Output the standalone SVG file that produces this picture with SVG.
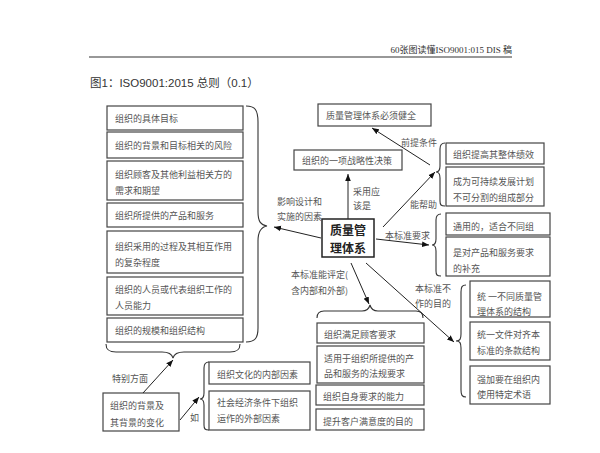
<svg xmlns="http://www.w3.org/2000/svg" width="600" height="453" viewBox="0 0 600 453">
<defs>
<style>
.bx{fill:#fff;stroke:#444;stroke-width:1.2}
.t{font-family:"Noto Sans CJK SC","Noto Sans",sans-serif;font-size:9px;fill:#555}
.c{fill:none;stroke:#222;stroke-width:1}
.br{fill:none;stroke:#333;stroke-width:1.1}
.hd{font-family:"Liberation Serif","Noto Sans CJK SC",serif;font-size:9px;fill:#333}
.ti{font-family:"Liberation Sans","Noto Sans CJK SC",sans-serif;font-size:11.5px;fill:#333}
.big{font-family:"Noto Sans CJK SC",sans-serif;font-size:12px;font-weight:bold;fill:#222}
</style>
<marker id="ah" viewBox="0 0 10 10" refX="10" refY="5" markerWidth="7" markerHeight="7" orient="auto" markerUnits="userSpaceOnUse">
<path d="M0,1 L10,5 L0,9 Z" fill="#111"/>
</marker>
</defs>
<rect width="600" height="453" fill="#fff"/>
<g id="header">
<text class="hd" x="512" y="53" text-anchor="end">60张图读懂ISO9001:015 DIS 稿</text>
<line x1="89" y1="57" x2="512" y2="57" stroke="#333" stroke-width="1.2"/>
<text class="ti" x="90" y="87">图1：ISO9001:2015 总则（0.1）</text>
</g>
<g id="left-column">
<rect class="bx" x="107" y="106" width="136" height="24"/>
<text class="t" x="115" y="122">组织的具体目标</text>
<rect class="bx" x="107" y="132" width="136" height="26"/>
<text class="t" x="115" y="149">组织的背景和目标相关的风险</text>
<rect class="bx" x="107" y="161" width="136" height="39"/>
<text class="t" x="115" y="178">组织顾客及其他利益相关方的</text>
<text class="t" x="115" y="194">需求和期望</text>
<rect class="bx" x="107" y="203" width="136" height="24"/>
<text class="t" x="115" y="219">组织所提供的产品和服务</text>
<rect class="bx" x="107" y="231" width="136" height="42"/>
<text class="t" x="115" y="250">组织采用的过程及其相互作用</text>
<text class="t" x="115" y="266">的复杂程度</text>
<rect class="bx" x="107" y="277" width="136" height="38"/>
<text class="t" x="115" y="293">组织的人员或代表组织工作的</text>
<text class="t" x="115" y="309">人员能力</text>
<rect class="bx" x="107" y="318" width="136" height="24"/>
<text class="t" x="115" y="334">组织的规模和组织结构</text>
</g>
<g id="qms">
<rect x="322" y="219" width="52" height="38" fill="#fff" stroke="#222" stroke-width="1.5"/>
<text class="big" x="348" y="235" text-anchor="middle">质量管</text>
<text class="big" x="348" y="252.5" text-anchor="middle">理体系</text>
</g>
<g id="must-be-sound">
<rect class="bx" x="318" y="104" width="113" height="22"/>
<text class="t" x="326" y="119">质量管理体系必须健全</text>
</g>
<g id="strategic-decision">
<rect class="bx" x="294" y="150" width="108" height="20"/>
<text class="t" x="302" y="164">组织的一项战略性决策</text>
</g>
<g id="helps">
<rect class="bx" x="446" y="143" width="98" height="21"/>
<text class="t" x="453" y="158">组织提高其整体绩效</text>
<rect class="bx" x="446" y="167" width="98" height="39"/>
<text class="t" x="453" y="184.5">成为可持续发展计划</text>
<text class="t" x="453" y="200.5">不可分割的组成部分</text>
</g>
<g id="requires">
<rect class="bx" x="446" y="213" width="104" height="22"/>
<text class="t" x="453" y="229.5">通用的，适合不同组</text>
<rect class="bx" x="446" y="237" width="104" height="39"/>
<text class="t" x="453" y="256">是对产品和服务要求</text>
<text class="t" x="453" y="271.5">的补充</text>
</g>
<g id="assess">
<rect class="bx" x="317" y="323" width="107" height="20"/>
<text class="t" x="324" y="337.5">组织满足顾客要求</text>
<rect class="bx" x="317" y="346" width="107" height="37"/>
<text class="t" x="324" y="361.5">适用于组织所提供的产</text>
<text class="t" x="324" y="376.5">品和服务的法规要求</text>
<rect class="bx" x="316" y="385" width="108" height="20"/>
<text class="t" x="323" y="400">组织自身要求的能力</text>
<rect class="bx" x="316" y="409" width="108" height="21"/>
<text class="t" x="323" y="424.5">提升客户满意度的目的</text>
</g>
<g id="not-intended">
<rect class="bx" x="470" y="281" width="80" height="36"/>
<text class="t" x="477" y="299.5">统 一不同质量管</text>
<text class="t" x="477" y="314.5">理体系的结构</text>
<rect class="bx" x="470" y="322" width="80" height="38"/>
<text class="t" x="477" y="338">统一文件对齐本</text>
<text class="t" x="477" y="354">标准的条款结构</text>
<rect class="bx" x="470" y="366" width="80" height="38"/>
<text class="t" x="477" y="382.5">强加要在组织内</text>
<text class="t" x="477" y="398">使用特定术语</text>
</g>
<g id="context">
<rect class="bx" x="103" y="393" width="76" height="38"/>
<text class="t" x="110" y="409">组织的背景及</text>
<text class="t" x="110" y="426">其背景的变化</text>
</g>
<g id="factors">
<rect class="bx" x="209" y="362" width="101" height="22"/>
<text class="t" x="217" y="378">组织文化的内部因素</text>
<rect class="bx" x="209" y="391" width="101" height="39"/>
<text class="t" x="217" y="406">社会经济条件下组织</text>
<text class="t" x="217" y="421.5">运作的外部因素</text>
</g>
<g id="braces">
<path class="br" d="M246,106 C255,106 258,110 258,122 L258,212 C258,222 261,225 267,226 C261,227 258,231 258,241 L258,328 C258,338 255,342 246,342"/>
<path class="br" d="M106,344 C106,350 109,352 116,352 L162,352 C169,352 172,354 173,358 C174,354 177,352 184,352 L230,352 C237,352 240,350 240,344"/>
<path class="br" d="M209,362 C205,362 204,364 204,368 L204,393 C204,397 203,399 200,399 C203,399 204,401 204,405 L204,425 C204,429 205,430 209,430"/>
<path class="br" d="M445,143 C441,143 440,145 440,149 L440,166 C440,170 439,172 436,172 C439,172 440,174 440,178 L440,201 C440,205 441,206 445,206"/>
<path class="br" d="M441,214 C437,214 436,216 436,220 L436,239 C436,243 435,245 432,245 C435,245 436,247 436,251 L436,271 C436,275 437,276 441,276"/>
<path class="br" d="M317,318 C317,313 319,311 324,311 L362,311 C367,311 369,309 370,305 C371,309 373,311 378,311 L416,311 C421,311 423,313 423,318"/>
<path class="br" d="M466,285 C462,285 461,287 461,292 L461,334 C461,339 460,341 456,341 C460,341 461,343 461,348 L461,390 C461,395 462,397 466,397"/>
</g>
<g id="connectors">
<line class="c" x1="321" y1="238" x2="274" y2="227" marker-end="url(#ah)"/>
<line class="c" x1="348" y1="219" x2="348" y2="174" marker-end="url(#ah)"/>
<line class="c" x1="430" y1="165" x2="372" y2="128" marker-end="url(#ah)"/>
<line class="c" x1="383" y1="227" x2="435" y2="172" marker-end="url(#ah)"/>
<line class="c" x1="376" y1="239" x2="429" y2="245" marker-end="url(#ah)"/>
<line class="c" x1="351" y1="263" x2="369" y2="304" marker-end="url(#ah)"/>
<line class="c" x1="366" y1="263" x2="454" y2="342" marker-end="url(#ah)"/>
<line class="c" x1="143" y1="393" x2="173" y2="360" marker-end="url(#ah)"/>
<line class="c" x1="180" y1="420" x2="199" y2="397" marker-end="url(#ah)"/>
</g>
<g id="labels">
<text class="t" x="277" y="205">影响设计和</text>
<text class="t" x="277" y="220">实施的因素</text>
<text class="t" x="353" y="194.5">采用应</text>
<text class="t" x="353" y="208.5">该是</text>
<text class="t" x="401" y="146">前提条件</text>
<text class="t" x="410" y="207.5">能帮助</text>
<text class="t" x="385" y="239">本标准要求</text>
<text class="t" x="291" y="277.5">本标准能评定(</text>
<text class="t" x="291" y="294">含内部和外部)</text>
<text class="t" x="415" y="292">本标准不</text>
<text class="t" x="415" y="306.5">作的目的</text>
<text class="t" x="112" y="382">特别方面</text>
<text class="t" x="190" y="420.5">如</text>
</g>
</svg>
